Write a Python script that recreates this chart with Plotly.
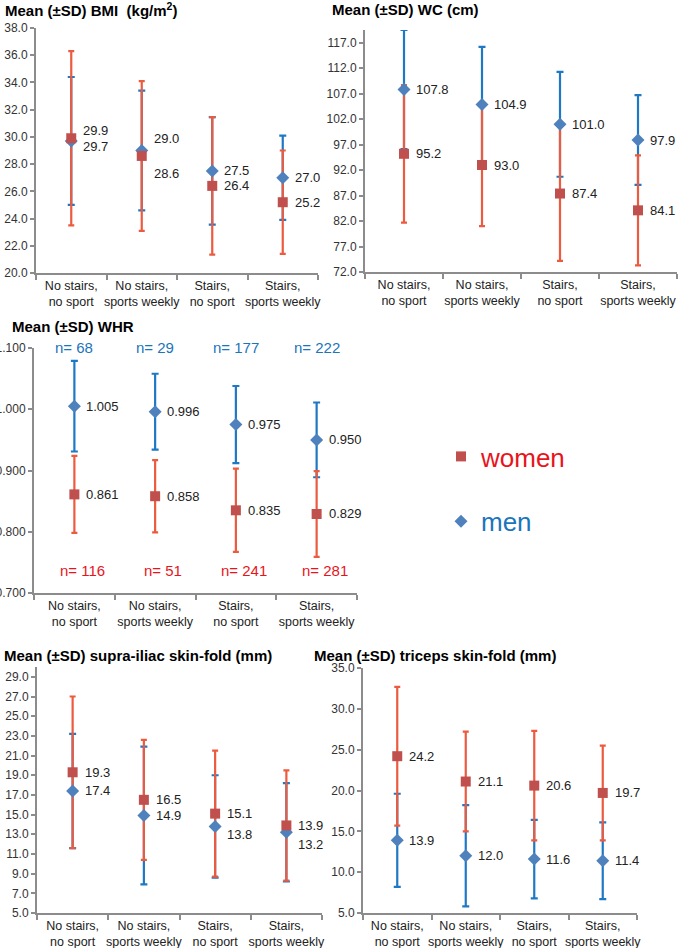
import plotly.graph_objects as go

categories = ["No stairs,<br>no sport", "No stairs,<br>sports weekly", "Stairs,<br>no sport", "Stairs,<br>sports weekly"]

bmi_women_mean = [29.9, 28.6, 26.4, 25.2]
bmi_women_sd = [6.4, 5.5, 5.05, 3.8]
bmi_men_mean = [29.7, 29.0, 27.5, 27.0]
bmi_men_sd = [4.7, 4.4, 3.95, 3.1]

wc_women_mean = [95.2, 93.0, 87.4, 84.1]
wc_women_sd = [13.5, 12.0, 13.2, 10.8]
wc_men_mean = [107.8, 104.9, 101.0, 97.9]
wc_men_sd = [11.7, 11.3, 10.3, 8.8]

whr_women_mean = [0.861, 0.858, 0.835, 0.829]
whr_women_sd = [0.063, 0.059, 0.068, 0.070]
whr_men_mean = [1.005, 0.996, 0.975, 0.950]
whr_men_sd = [0.074, 0.062, 0.063, 0.061]
n_men = [68, 29, 177, 222]
n_women = [116, 51, 241, 281]

supra_women_mean = [19.3, 16.5, 15.1, 13.9]
supra_women_sd = [7.7, 6.1, 6.4, 5.6]
supra_men_mean = [17.4, 14.9, 13.8, 13.2]
supra_men_sd = [5.8, 7.0, 5.2, 5.0]

tri_women_mean = [24.2, 21.1, 20.6, 19.7]
tri_women_sd = [8.5, 6.1, 6.7, 5.8]
tri_men_mean = [13.9, 12.0, 11.6, 11.4]
tri_men_sd = [5.7, 6.2, 4.8, 4.7]

W, H = 685, 948
FONT = "Liberation Sans, Arial, Helvetica, sans-serif"
RED_M = "#C0504D"
BLUE_M = "#4F81BD"
RED_E = "#EC5B3F"
BLUE_E = "#1F78C4"
AX = "#8C8C8C"

panels = [
    dict(title="Mean (±SD) BMI  (kg/m<sup>2</sup>)", tx=3, ty=10,
         x0=36, x1=318, ytop=28, ybot=273, rng=[20, 38], tickvals=[20 + 2 * i for i in range(10)], fmt=".1f",
         wm=bmi_women_mean, ws=bmi_women_sd, mm=bmi_men_mean, ms=bmi_men_sd,
         wshift=[8, -18, 0, 0], mshift=[-6, 12, 0, 0]),
    dict(title="Mean (±SD) WC (cm)", tx=330, ty=10,
         x0=365, x1=677, ytop=30, ybot=272, rng=[72, 119.5], tickvals=[72 + 5 * i for i in range(10)], fmt=".1f",
         wm=wc_women_mean, ws=wc_women_sd, mm=wc_men_mean, ms=wc_men_sd,
         wshift=[0, 0, 0, 0], mshift=[0, 0, 0, 0]),
    dict(title="Mean (±SD) WHR", tx=10, ty=326,
         x0=34, x1=357, ytop=348, ybot=593, rng=[0.7, 1.1], tickvals=[0.7, 0.8, 0.9, 1.0, 1.1], fmt=".3f",
         wm=whr_women_mean, ws=whr_women_sd, mm=whr_men_mean, ms=whr_men_sd,
         wshift=[0, 0, 0, 0], mshift=[0, 0, 0, 0]),
    dict(title="Mean (±SD) supra-iliac skin-fold (mm)", tx=2, ty=655,
         x0=37, x1=322, ytop=667, ybot=913, rng=[5, 30], tickvals=[5 + 2 * i for i in range(13)], fmt=".1f",
         wm=supra_women_mean, ws=supra_women_sd, mm=supra_men_mean, ms=supra_men_sd,
         wshift=[0, 0, 0, 0], mshift=[0, 0, -8, -12]),
    dict(title="Mean (±SD) triceps skin-fold (mm)", tx=312, ty=655,
         x0=363, x1=637, ytop=668, ybot=913, rng=[5, 35], tickvals=[5 + 5 * i for i in range(7)], fmt=".1f",
         wm=tri_women_mean, ws=tri_women_sd, mm=tri_men_mean, ms=tri_men_sd,
         wshift=[0, 0, 0, 0], mshift=[0, 0, 0, 0]),
]

fig = go.Figure()
layout = dict(width=W, height=H, margin=dict(l=0, r=0, t=0, b=0, autoexpand=False),
              paper_bgcolor="white", plot_bgcolor="white",
              font=dict(family=FONT, color="#222"), annotations=[])
xs = [0, 1, 2, 3]

for k, p in enumerate(panels):
    sfx = "" if k == 0 else str(k + 1)
    xa, ya = "x" + sfx, "y" + sfx
    # error bars: men first, then women on top
    fig.add_trace(go.Scatter(x=xs, y=p["mm"], mode="markers", xaxis=xa, yaxis=ya,
                             marker=dict(color="rgba(0,0,0,0)", size=2), showlegend=False, hoverinfo="skip",
                             error_y=dict(type="data", array=p["ms"], color=BLUE_E, thickness=2.2, width=3.5)))
    fig.add_trace(go.Scatter(x=xs, y=p["wm"], mode="markers", xaxis=xa, yaxis=ya,
                             marker=dict(color="rgba(0,0,0,0)", size=2), showlegend=False, hoverinfo="skip",
                             error_y=dict(type="data", array=p["ws"], color=RED_E, thickness=2.2, width=3)))
    fig.add_trace(go.Scatter(x=xs, y=p["mm"], mode="markers", xaxis=xa, yaxis=ya, name="<span style='color:#1A75BC'>men</span>",
                             marker=dict(symbol="diamond", color=BLUE_M, size=10), showlegend=(k == 2),
                             legendgroup="men", legendrank=2))
    fig.add_trace(go.Scatter(x=xs, y=p["wm"], mode="markers", xaxis=xa, yaxis=ya, name="<span style='color:#E8141C'>women</span>",
                             marker=dict(symbol="square", color=RED_M, size=10), showlegend=(k == 2),
                             legendgroup="women", legendrank=1))
    dom_x = [p["x0"] / W, p["x1"] / W]
    dom_y = [1 - p["ybot"] / H, 1 - p["ytop"] / H]
    layout["xaxis" + sfx] = dict(domain=dom_x, anchor=ya, range=[-0.5, 3.5], tickvals=xs, ticktext=categories,
                                 ticks="", tickangle=0, automargin=False, showline=True, linecolor=AX, linewidth=2,
                                 showgrid=False, zeroline=False, tickfont=dict(size=12.5, color="#222", family=FONT),
                                 minor=dict(tickvals=[-0.5, 0.5, 1.5, 2.5, 3.5], ticks="outside", ticklen=5,
                                            tickcolor=AX, tickwidth=2, showgrid=False))
    layout["yaxis" + sfx] = dict(domain=dom_y, anchor=xa, range=p["rng"], tickvals=p["tickvals"], automargin=False,
                                 tickformat=p["fmt"], ticks="outside", ticklen=4, tickcolor=AX, tickwidth=1.5,
                                 showline=True, linecolor=AX, linewidth=2, showgrid=False, zeroline=False,
                                 tickfont=dict(size=12, color="#333", family=FONT))
    layout["annotations"].append(dict(xref="paper", yref="paper", x=p["tx"] / W, y=1 - p["ty"] / H,
                                      xanchor="left", yanchor="middle", showarrow=False,
                                      text="<b>" + p["title"] + "</b>", font=dict(size=15, color="black", family=FONT)))
    lf = ".3f" if p["fmt"] == ".3f" else ".1f"
    for i in xs:
        layout["annotations"].append(dict(xref=xa, yref=ya, x=i, y=p["wm"][i], xanchor="left", yanchor="middle",
                                          xshift=10, yshift=p["wshift"][i], showarrow=False,
                                          text=format(p["wm"][i], lf), font=dict(size=13, color="#222", family=FONT)))
        layout["annotations"].append(dict(xref=xa, yref=ya, x=i, y=p["mm"][i], xanchor="left", yanchor="middle",
                                          xshift=10, yshift=p["mshift"][i], showarrow=False,
                                          text=format(p["mm"][i], lf), font=dict(size=13, color="#222", family=FONT)))

for i in xs:
    layout["annotations"].append(dict(xref="x3", yref="y3", x=i, y=1.1, xanchor="center", yanchor="middle",
                                      showarrow=False, text="n= %d" % n_men[i],
                                      font=dict(size=15, color="#1A75BC", family=FONT)))
    layout["annotations"].append(dict(xref="x3", yref="y3", x=i, y=0.737, xanchor="center", yanchor="middle",
                                      xshift=8, showarrow=False, text="n= %d" % n_women[i],
                                      font=dict(size=15, color="#E8141C", family=FONT)))

layout["legend"] = dict(x=441 / W, y=1 - 433 / H, xanchor="left", yanchor="top", traceorder="grouped",
                        tracegroupgap=28, font=dict(size=26, family=FONT), bgcolor="rgba(0,0,0,0)",
                        itemsizing="trace")
fig.update_layout(**layout)
fig.write_html("out.html", config={"displayModeBar": False},
               post_script="document.body.style.margin='0';document.body.style.overflow='hidden';")
